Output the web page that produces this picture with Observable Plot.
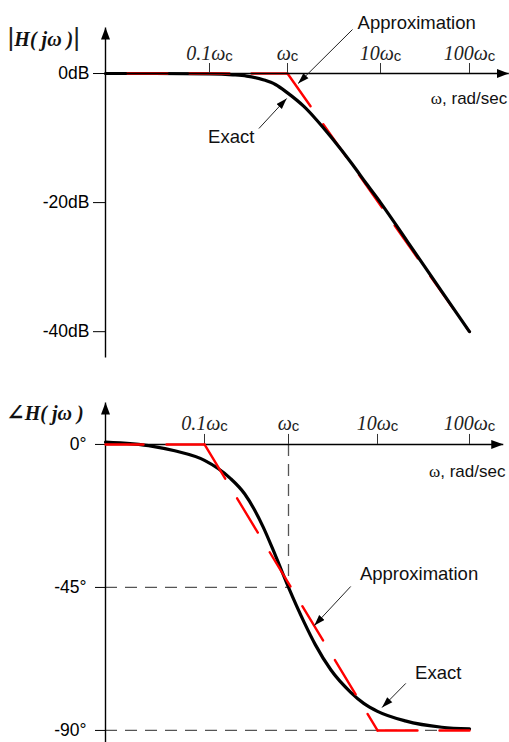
<!DOCTYPE html>
<html>
<head>
<meta charset="utf-8">
<script src="https://cdn.jsdelivr.net/npm/d3@7"></script>
<script src="https://cdn.jsdelivr.net/npm/@observablehq/plot@0.6"></script>
<style>
  html, body { margin: 0; padding: 0; background: #fff; }
  #chart { width: 509px; }
  #chart svg { display: block; }
</style>
</head>
<body>
<div id="chart"></div>
<script>
// ---------------- data (ω in units of ωc) ----------------
const omegaExact   = [0.01, 0.03, 0.1, 0.2, 0.3, 0.5, 0.7, 1, 1.5, 2, 3, 5, 7, 10, 20, 50, 100];
const magExactDb   = [0, 0, -0.05, -0.2, -0.4, -1.0, -1.7, -3.0, -5.1, -7.0, -10.0, -14.1, -17.0, -20.0, -26.0, -34.0, -40.0];
const omegaMagApprox = [0.01, 1, 100];
const magApproxDb    = [0, 0, -40];

const omegaPhase    = [0.01, 0.03, 0.05, 0.1, 0.2, 0.3, 0.5, 0.7, 1, 1.5, 2, 3, 5, 7, 10, 20, 50, 100];
const phaseExactDeg = [0.7, -0.6, -2.0, -5.0, -10.5, -15.5, -26, -35, -45, -56, -63, -71, -78, -81.5, -84, -87, -89, -89.5];
const omegaPhaseApprox = [0.01, 0.1, 10, 100];
const phaseApproxDeg   = [0, 0, -90, -90];

const xTickValues = [0.1, 1, 10, 100];
const xTickText   = ["0.1ω", "ω", "10ω", "100ω"];
const magTickValues   = [0, -20, -40];
const phaseTickValues = [0, -45, -90];

const magLabel   = "|H( jω )|";
const phaseLabel = "∠H( jω )";
const axisName   = "ω, rad/sec";

// annotations (data coordinates)
const magNotes   = [{text: "Approximation", w: 25.5, v: 6.97}, {text: "Exact", w: 0.19, v: -10.7}];
const magArrows  = [{w1: 5.0, v1: 6.82, w2: 1.3, v2: -1.55}, {w1: 0.43, v1: -8.52, w2: 0.975, v2: -3.87}];
const phaseNotes  = [{text: "Approximation", w: 28.3, v: -42.8}, {text: "Exact", w: 45.7, v: -73.9}];
const phaseArrows = [{w1: 5.0, v1: -44.7, w2: 1.95, v2: -57.0}, {w1: 20.3, v1: -75.2, w2: 11.2, v2: -82.8}];

// ---------------- helpers ----------------
const SANS  = "'Liberation Sans', Arial, Helvetica, sans-serif";
const SERIF = "'Liberation Serif', 'Times New Roman', 'DejaVu Serif', serif";
const pts = (ws, vs) => ws.map((w, i) => ({w, v: vs[i]}));
const segs = (ws, vs) => d3.pairs(pts(ws, vs));

const magExact  = pts(omegaExact, magExactDb);
const magApprox = segs(omegaMagApprox, magApproxDb);
const phExact   = pts(omegaPhase, phaseExactDeg);
const phApprox  = segs(omegaPhaseApprox, phaseApproxDeg);

// piecewise log scales (the figure's decades are not drawn perfectly evenly)
const decades = [0.001, 0.01, 0.1, 1, 10, 100, 1000];
const xScaleTop = {type: "log", domain: decades, range: [4, 105, 209, 287, 380, 469, 560], axis: null};
const xScaleBot = {type: "log", domain: decades, range: [4, 105, 204, 288, 377, 469, 560], axis: null};

function finish(svg, uid) {
  const s = d3.select(svg);
  const defs = s.insert("defs", ":first-child");
  defs.append("marker").attr("id", "ax" + uid).attr("viewBox", "0 -5 12 10")
    .attr("refX", 12).attr("refY", 0).attr("markerWidth", 12).attr("markerHeight", 10)
    .attr("markerUnits", "userSpaceOnUse").attr("orient", "auto")
    .append("path").attr("d", "M0,-4.5L12,0L0,4.5Z").attr("fill", "black");
  defs.append("marker").attr("id", "an" + uid).attr("viewBox", "0 -4 11 8")
    .attr("refX", 11).attr("refY", 0).attr("markerWidth", 11).attr("markerHeight", 8)
    .attr("markerUnits", "userSpaceOnUse").attr("orient", "auto")
    .append("path").attr("d", "M0,-3.6L11,0L0,3.6Z").attr("fill", "black");
  s.selectAll('g[aria-description="axis-arrow"] path, g[aria-description="axis-arrow"] line')
    .attr("marker-end", `url(#ax${uid})`);
  s.selectAll('g[aria-description="note-arrow"] path, g[aria-description="note-arrow"] line')
    .attr("marker-end", `url(#an${uid})`);
  s.selectAll('g[aria-description="xtick-label"] text').each(function () {
    const t = this.textContent;
    const sel = d3.select(this); sel.text(null);
    sel.append("tspan").text(t);
    sel.append("tspan").attr("font-family", SANS).attr("font-style", "normal")
      .attr("font-size", 15).attr("dy", 1).text("c");
  });
  s.selectAll('g[aria-description="axis-name"] text').each(function () {
    const t = this.textContent;
    const sel = d3.select(this); sel.text(null);
    sel.append("tspan").attr("font-family", SERIF).attr("font-size", 17).text(t.slice(0, 1));
    sel.append("tspan").text(t.slice(1));
  });
  s.selectAll('g[aria-description="y-label"] text').each(function () {
    const t = this.textContent;
    const sel = d3.select(this); sel.text(null);
    const runs = t.match(/\|+|∠|[^|∠]+/g);
    for (const r of runs) {
      if (r[0] === "|") {
        sel.append("tspan").attr("font-weight", "normal").attr("font-style", "normal")
          .attr("font-family", SANS).attr("font-size", 26).attr("fill", "#222").text(r);
      } else if (r === "∠") {
        sel.append("tspan").attr("font-size", 22).text(r);
      } else {
        sel.append("tspan").text(r);
      }
    }
  });
  return svg;
}

function axisMarks(xEnd, yBottom, yTop, tickLen) {
  return [
    Plot.link([0], {x1: 0.01, x2: 0.01, y1: yBottom, y2: yTop, stroke: "black", strokeWidth: 1.4, ariaDescription: "axis-arrow"}),
    Plot.link([0], {x1: 0.01, x2: xEnd, y1: 0, y2: 0, stroke: "black", strokeWidth: 1.4, ariaDescription: "axis-arrow"}),
    Plot.ruleX(xTickValues, {x: d => d, y1: 0, y2: tickLen, stroke: "#333", strokeWidth: 1}),
    Plot.text(xTickValues, {x: d => d, y: 0, dy: -14, text: (d, i) => xTickText[i], lineAnchor: "bottom",
      fontFamily: SERIF, fontStyle: "italic", fontSize: 20, fill: "#222", ariaDescription: "xtick-label"})
  ];
}

function noteMarks(notes, arrows) {
  return [
    Plot.link(arrows, {x1: "w1", y1: "v1", x2: "w2", y2: "v2", stroke: "#222", strokeWidth: 1, ariaDescription: "note-arrow"}),
    Plot.text(notes, {x: "w", y: "v", text: "text", lineAnchor: "bottom", fontFamily: SANS, fontSize: 18.5, fill: "#111"})
  ];
}

// ---------------- magnitude panel ----------------
const topH = 380, topMT = 27, topMB = 23, topYTop = 7.13, topYBot = -44;
const topPx = (topH - topMT - topMB) / (topYTop - topYBot);
const magPlot = Plot.plot({
  width: 509, height: topH,
  marginLeft: 105, marginRight: 4, marginTop: topMT, marginBottom: topMB,
  style: {fontFamily: SANS, fontSize: "17.5px", background: "white", color: "black", overflow: "visible"},
  x: xScaleTop,
  y: {domain: [topYBot, topYTop], ticks: magTickValues, tickFormat: d => `${d}dB`, tickSize: 12, tickPadding: 4, label: null},
  marks: [
    Plot.line(magApprox[1], {x: "w", y: "v", stroke: "#f00", strokeWidth: 2.4, strokeDasharray: "40,22"}),
    Plot.line(magExact, {x: "w", y: "v", stroke: "black", strokeWidth: 3.2, curve: "monotone-x"}),
    Plot.line(magApprox[0], {x: "w", y: "v", stroke: "#f00", strokeWidth: 2.4, strokeDasharray: "40,22", strokeDashoffset: 40}),
    ...axisMarks(270, topYBot, topYTop, 10 / topPx),
    Plot.text([axisName], {x: 260, y: -4.65, text: d => d, textAnchor: "end", lineAnchor: "bottom", fontSize: 17, fill: "#111", ariaDescription: "axis-name"}),
    Plot.text([magLabel], {x: 0.00245, y: 4.34, text: d => d, lineAnchor: "bottom", fontFamily: SERIF, fontStyle: "italic", fontWeight: "bold", fontSize: 20, fill: "#111", ariaDescription: "y-label"}),
    ...noteMarks(magNotes, magArrows)
  ]
});

// ---------------- phase panel ----------------
const botH = 362, botMT = 22, botMB = 0, botYTop = 13.2, botYBot = -93.8;
const botPx = (botH - botMT - botMB) / (botYTop - botYBot);
const phasePlot = Plot.plot({
  width: 509, height: botH,
  marginLeft: 105, marginRight: 4, marginTop: botMT, marginBottom: botMB,
  style: {fontFamily: SANS, fontSize: "17.5px", background: "white", color: "black", overflow: "visible"},
  x: xScaleBot,
  y: {domain: [botYBot, botYTop], ticks: phaseTickValues, tickFormat: d => `${d}°`, tickSize: 10, tickPadding: 9, label: null},
  marks: [
    Plot.ruleY([-45], {x1: 0.01, x2: 1, stroke: "#555", strokeWidth: 1.3, strokeDasharray: "12,8"}),
    Plot.ruleX([1], {y1: 0, y2: -45, stroke: "#555", strokeWidth: 1.3, strokeDasharray: "12,8"}),
    Plot.ruleY([-90], {x1: 0.01, x2: 100, stroke: "#555", strokeWidth: 1.3, strokeDasharray: "12,8"}),
    ...axisMarks(235, botYBot, botYTop, 10 / botPx),
    Plot.line(phExact, {x: "w", y: "v", stroke: "black", strokeWidth: 3.2, curve: "monotone-x"}),
    Plot.line(phApprox[0], {x: "w", y: "v", stroke: "#f00", strokeWidth: 2.4, strokeDasharray: "38,23"}),
    Plot.line(phApprox[1], {x: "w", y: "v", stroke: "#f00", strokeWidth: 2.4, strokeDasharray: "40,23"}),
    Plot.line(phApprox[2], {x: "w", y: "v", stroke: "#f00", strokeWidth: 2.4, strokeDasharray: "40,22"}),
    Plot.text([axisName], {x: 248, y: -10.4, text: d => d, textAnchor: "end", lineAnchor: "bottom", fontSize: 17, fill: "#111", ariaDescription: "axis-name"}),
    Plot.text([phaseLabel], {x: 0.00252, y: 7.55, text: d => d, lineAnchor: "bottom", fontFamily: SERIF, fontStyle: "italic", fontWeight: "bold", fontSize: 20, fill: "#111", ariaDescription: "y-label"}),
    ...noteMarks(phaseNotes, phaseArrows)
  ]
});

const chart = document.getElementById("chart");
chart.appendChild(finish(magPlot, "m"));
chart.appendChild(finish(phasePlot, "p"));
</script>
</body>
</html>
